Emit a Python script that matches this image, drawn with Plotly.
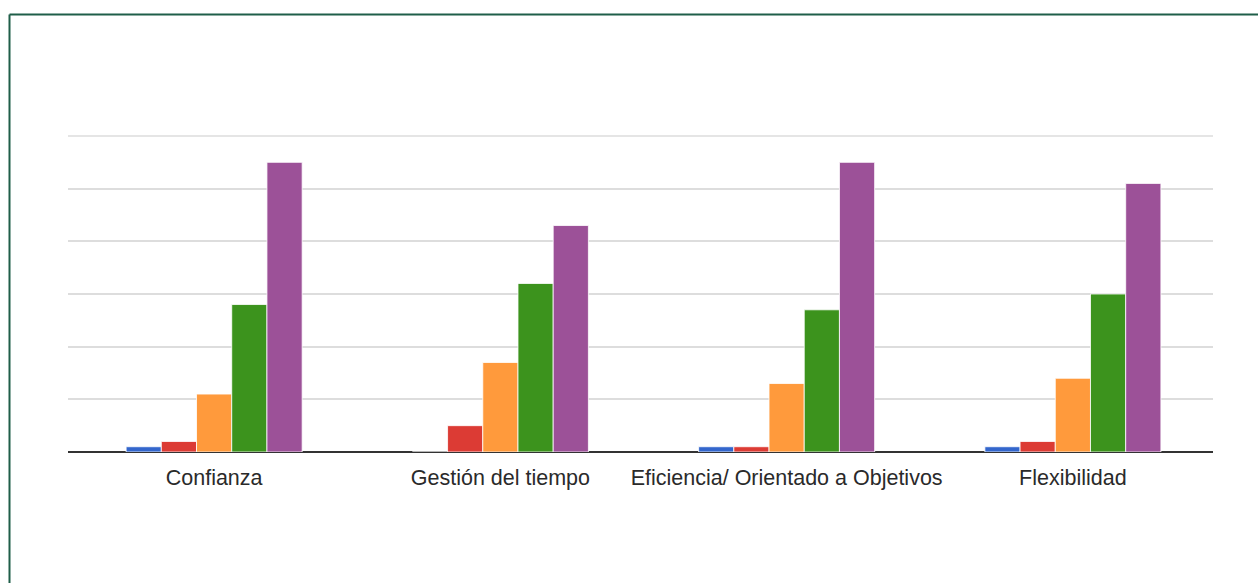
import plotly.graph_objects as go

# Survey results: number of responses per rating level (1-5) for each skill
categories = ["Confianza", "Gestión del tiempo", "Eficiencia/ Orientado a Objetivos", "Flexibilidad"]
series_names = ["1", "2", "3", "4", "5"]
values = {
    "1": [1, 0, 1, 1],
    "2": [2, 5, 1, 2],
    "3": [11, 17, 13, 14],
    "4": [28, 32, 27, 30],
    "5": [55, 43, 55, 51],
}
colors = ["#3366cc", "#dc3b34", "#ff9a3c", "#3c931d", "#9c5198"]
y_max = 60

W, H = 1258, 583
ML, MR, MT, MB = 68, 45, 136, 131
plot_w = W - ML - MR
plot_h = H - MT - MB

fig = go.Figure()
for name, color in zip(series_names, colors):
    fig.add_trace(go.Bar(
        x=categories,
        y=values[name],
        name=name,
        marker=dict(color=color, line=dict(color="rgba(255,255,255,0.8)", width=1)),
        hoverinfo="x+y",
    ))

# Frame lines along the top and left edge of the card
def px_x(p):
    return (p - ML) / plot_w

def px_y(p):
    return (H - MB - p) / plot_h

frame_color = "#1f5e49"
fig.add_shape(type="line", xref="paper", yref="paper",
              x0=px_x(9.5), x1=px_x(W + 20), y0=px_y(14.5), y1=px_y(14.5),
              line=dict(color=frame_color, width=2))
fig.add_shape(type="line", xref="paper", yref="paper",
              x0=px_x(9.5), x1=px_x(9.5), y0=px_y(14.5), y1=px_y(H + 20),
              line=dict(color=frame_color, width=2))
# Top gridline sitting on the upper edge of the value range
fig.add_shape(type="line", xref="paper", yref="paper", layer="below",
              x0=0, x1=1, y0=1, y1=1,
              line=dict(color="#dddddd", width=1.5))

fig.update_layout(
    width=W, height=H,
    margin=dict(l=ML, r=MR, t=MT, b=MB, pad=0),
    paper_bgcolor="white",
    plot_bgcolor="white",
    barmode="group",
    bargap=0.385,
    bargroupgap=0.0,
    showlegend=False,
    font=dict(family="Liberation Sans, Arial, sans-serif", color="#2a2a2a"),
    xaxis=dict(
        range=[-0.5105, 3.4895],
        showgrid=False,
        showline=False,
        ticks="",
        tickfont=dict(size=21.5, color="#2a2a2a"),
        ticklabelstandoff=10,
    ),
    yaxis=dict(
        range=[0, y_max],
        tickvals=[10, 20, 30, 40, 50],
        showticklabels=False,
        showgrid=True,
        gridcolor="#dddddd",
        gridwidth=1.5,
        zeroline=True,
        zerolinecolor="#333333",
        zerolinewidth=1.5,
        showline=False,
        ticks="",
    ),
)

fig.write_html("out.html")
